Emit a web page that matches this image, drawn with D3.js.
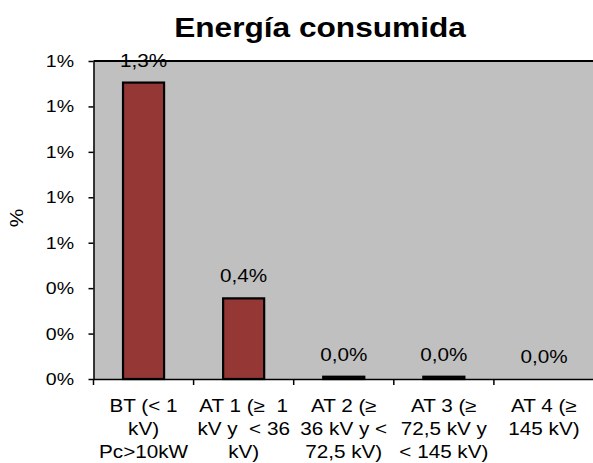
<!DOCTYPE html>
<html><head><meta charset="utf-8">
<script src="https://cdn.jsdelivr.net/npm/d3@7"></script>
<style>body{margin:0;background:#fff}svg{display:block;font-family:"Liberation Sans",Arial,sans-serif}text{white-space:pre}</style>
</head><body><svg id="c" width="593" height="463"></svg>
<script>
const title = "Energía consumida";
const yLabel = "%";
const categories = [
  "BT (< 1|kV)|Pc>10kW",
  "AT 1 (≥  1|kV y  < 36|kV)",
  "AT 2 (≥|36 kV y <|72,5 kV)",
  "AT 3 (≥|72,5 kV y|< 145 kV)",
  "AT 4 (≥|145 kV)"
];
const values = [0.01305, 0.00355, 0.0001, 0.0001, 0.0];
const yTicks = [0, 0.002, 0.004, 0.006, 0.008, 0.010, 0.012, 0.014];

const SX = 1.15; // horizontal stretch of the reference text
const svg = d3.select("#c");
const L = 93.5, R = 594, T = 61, B = 379;
const locale = d3.formatLocale({decimal: ",", thousands: ".", grouping: [3], currency: ["", "€"]});
const fmtVal = locale.format(".1%");
const fmtTick = locale.format(".0%");

const x = d3.scaleBand().domain(d3.range(categories.length)).range([L, R]).padding(0);
const y = d3.scaleLinear().domain([0, 0.014]).range([B, T]);

svg.append("rect").attr("x", L).attr("y", T).attr("width", R - L).attr("height", B - T).attr("fill", "#C0C0C0");
svg.append("line").attr("x1", L).attr("x2", R).attr("y1", T).attr("y2", T).attr("stroke", "#000").attr("stroke-width", 2);

const bw = x.bandwidth();
svg.selectAll("rect.bar").data(values).join("rect").attr("class", "bar")
  .attr("x", (d, i) => x(i) + bw * 0.295)
  .attr("width", bw * 0.41)
  .attr("y", d => y(d))
  .attr("height", d => y(0) - y(d))
  .attr("fill", "#953735").attr("stroke", "#000").attr("stroke-width", 2.2);

svg.selectAll("text.val").data(values).join("text").attr("class", "val")
  .attr("transform", (d, i) => `translate(${x(i) + bw / 2},${y(d) - 16}) scale(${SX},1)`)
  .attr("text-anchor", "middle").attr("font-size", 18).attr("fill", "#000")
  .text(d => fmtVal(d));

const yAxis = d3.axisLeft(y).tickValues(yTicks).tickFormat(fmtTick).tickSize(5).tickSizeOuter(0).tickPadding(14);
const gy = svg.append("g").attr("transform", `translate(${L},0)`).call(yAxis);
gy.attr("font-family", null).attr("font-size", null);
gy.selectAll("text").attr("font-size", 17).attr("fill", "#000")
  .attr("x", null).attr("transform", `translate(-19.5,0) scale(${SX},1)`);
gy.selectAll("line,path").attr("stroke", "#000").attr("stroke-width", 1.5);

const xAxis = d3.axisBottom(x).tickSize(6).tickSizeOuter(0).tickFormat("");
const gx = svg.append("g").attr("transform", `translate(0,${B})`).call(xAxis);
gx.selectAll(".tick").attr("transform", d => `translate(${x(d)},0)`);
gx.selectAll("line,path").attr("stroke", "#000").attr("stroke-width", 1.5);

const cl = svg.append("g");
categories.forEach((c, i) => {
  const t = cl.append("text").attr("text-anchor", "middle").attr("font-size", 18).attr("fill", "#000")
    .attr("transform", `translate(${x(i) + bw / 2},0) scale(${SX},1)`);
  c.split("|").forEach((line, j) => {
    t.append("tspan").attr("x", 0).attr("y", 412 + j * 23).text(line);
  });
});

svg.append("text").attr("transform", `translate(320,37) scale(1.13,1)`).attr("text-anchor", "middle")
  .attr("font-size", 28).attr("font-weight", "bold").text(title);
svg.append("text").attr("transform", "translate(23,218) rotate(-90) scale(1.1,1)").attr("text-anchor", "middle")
  .attr("font-size", 19).text(yLabel);
</script></body></html>
